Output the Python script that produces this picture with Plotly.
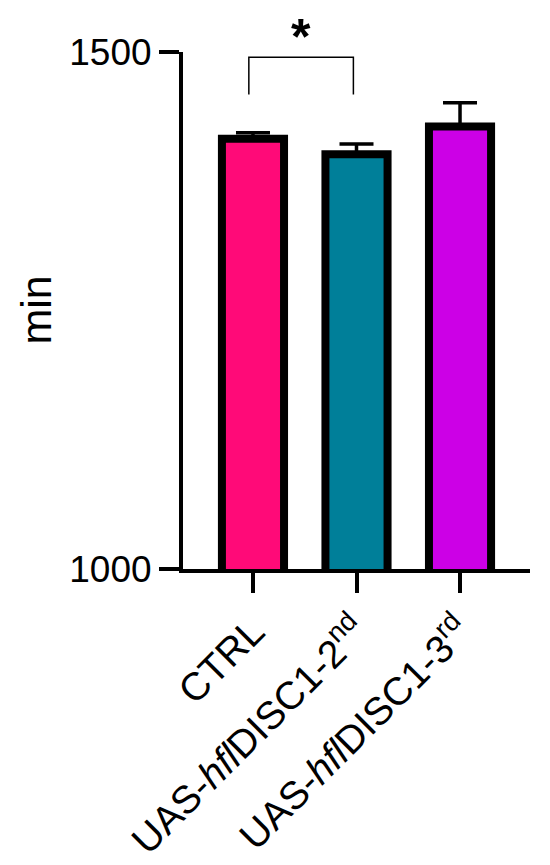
import plotly.graph_objects as go

# =========================
# DATA
# =========================
groups = ["CTRL", "2nd", "3rd"]
group_labels = [
    "CTRL",
    "UAS-<i>hfl</i>DISC1-2<sup>nd</sup>",
    "UAS-<i>hfl</i>DISC1-3<sup>rd</sup>",
]
mean_min = [1416, 1401, 1428]
sem_min = [6, 10, 23]
bar_colors = ["#FF0A78", "#007F99", "#CC00E6"]

FONT = "Arial, Liberation Sans, sans-serif"

fig = go.Figure()
fig.add_trace(go.Bar(
    x=groups,
    y=mean_min,
    width=0.6,
    marker=dict(color=bar_colors, line=dict(color="black", width=8)),
    error_y=dict(
        type="data", symmetric=False, array=sem_min, arrayminus=[0, 0, 0],
        color="black", thickness=3.5, width=17
    ),
    showlegend=False,
))

# significance bracket CTRL vs 2nd
fig.add_shape(
    type="path",
    path="M -0.04,1459 L -0.04,1495 L 0.97,1495 L 0.97,1459",
    xref="x", yref="y",
    line=dict(color="black", width=1.5),
)
fig.add_annotation(
    x=0.46, y=1.0851, xref="x", yref="paper", text="<b>*</b>",
    xanchor="center", yanchor="top", borderpad=0,
    showarrow=False, font=dict(size=50, color="black", family=FONT),
)

fig.add_annotation(
    x=-0.4265, y=0.5, xref="paper", yref="paper", text="min", textangle=-90,
    xanchor="center", yanchor="middle", borderpad=0,
    showarrow=False, font=dict(size=43, color="black", family=FONT),
)

# page body has 8px margin, so shift the plot area up/left by 8
fig.update_layout(
    width=550,
    height=865,
    margin=dict(l=175, r=28, t=44, b=304),
    plot_bgcolor="white",
    paper_bgcolor="white",
    font=dict(family=FONT, size=39, color="black"),
    bargap=0.4,
)
fig.update_xaxes(
    range=[-0.676, 2.676],
    tickvals=groups,
    ticktext=group_labels,
    tickangle=-45,
    showline=True, linewidth=4, linecolor="black",
    ticks="outside", ticklen=20, tickwidth=4, tickcolor="black",
    showgrid=False, zeroline=False,
    tickfont=dict(size=39),
)
fig.update_yaxes(
    range=[1000, 1500],
    tickvals=[1000, 1500],
    showline=True, linewidth=4, linecolor="black",
    ticks="outside", ticklen=20, tickwidth=4, tickcolor="black",
    showgrid=False, zeroline=False,
    tickfont=dict(size=37),
)

fig.write_html("out.html")
